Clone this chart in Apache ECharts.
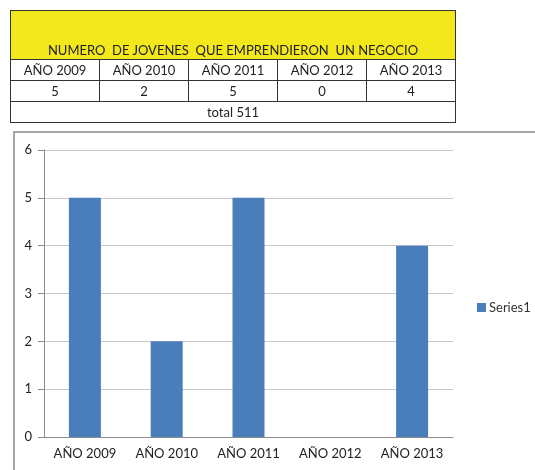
<!DOCTYPE html>
<html>
<head>
<meta charset="utf-8">
<script src="https://cdn.jsdelivr.net/npm/echarts@6/dist/echarts.min.js"></script>
<style>
  html, body { margin: 0; padding: 0; background: #fff; }
  body { width: 535px; height: 470px; position: relative; overflow: hidden; font-family: Lato, "Open Sans", sans-serif; }
  #chart { position: absolute; left: 0; top: 0; width: 535px; height: 470px; }
  .chart-box {
    position: absolute; left: 13px; top: 131px; width: 530px; height: 350px;
    border-top: 2px solid #a6a6a6; border-left: 2px solid #a6a6a6;
  }
  .data-table {
    position: absolute; left: 10px; top: 10px; width: 446px;
    border-collapse: collapse; font-size: 13px; color: #222;
  }
  .data-table td {
    border: 1px solid #333; text-align: center; padding: 0; height: 20px; width: 89px;
  }
  .data-table .title-cell {
    background: #f2e81c; height: 47px; vertical-align: bottom; white-space: pre; padding-bottom: 1px;
  }
</style>
</head>
<body>
<div class="chart-box"></div>
<div id="chart"></div>
<table class="data-table" id="tbl"></table>
<script>
  const titleText = 'NUMERO  DE JOVENES  QUE EMPRENDIERON  UN NEGOCIO';
  const categories = ['AÑO 2009', 'AÑO 2010', 'AÑO 2011', 'AÑO 2012', 'AÑO 2013'];
  const values = [5, 2, 5, 0, 4];
  const totalText = 'total 511';
  const yTicks = [0, 1, 2, 3, 4, 5, 6];

  // tabla de arriba
  let tbl = document.getElementById('tbl');
  let html = '<tr><td class="title-cell" colspan="' + categories.length + '">' + titleText + '</td></tr>';
  html += '<tr>' + categories.map(c => '<td>' + c + '</td>').join('') + '</tr>';
  html += '<tr>' + values.map(v => '<td>' + v + '</td>').join('') + '</tr>';
  html += '<tr><td colspan="' + categories.length + '">' + totalText + '</td></tr>';
  tbl.innerHTML = html;

  let chart = echarts.init(document.getElementById('chart'));
  const option = {
    animation: false,
    textStyle: { fontFamily: 'Lato, "Open Sans", sans-serif' },
    grid: { left: 44, right: 82, top: 150, bottom: 33 },
    legend: {
      data: ['Series1'],
      left: 472, top: 296,
      icon: 'rect', itemWidth: 9, itemHeight: 9, itemGap: 4,
      textStyle: { fontSize: 13, color: '#333', padding: [0, 0, 0, -2] }
    },
    xAxis: {
      type: 'category',
      data: categories,
      axisLine: { lineStyle: { color: '#8c8c8c' } },
      axisTick: { length: 5, lineStyle: { color: '#8c8c8c' } },
      axisLabel: { fontSize: 13, color: '#222', margin: 10 }
    },
    yAxis: {
      type: 'value',
      min: yTicks[0], max: yTicks[yTicks.length - 1], interval: 1,
      axisLine: { show: true, lineStyle: { color: '#8c8c8c' } },
      axisTick: { show: true, length: 6, lineStyle: { color: '#8c8c8c' } },
      axisLabel: { fontSize: 13, color: '#222', margin: 12 },
      splitLine: { lineStyle: { color: '#c8c8c8' } }
    },
    series: [
      {
        name: 'Series1',
        type: 'bar',
        data: values,
        barWidth: 32,
        itemStyle: { color: '#4a7ebb' }
      }
    ]
  };
  chart.setOption(option);
</script>
</body>
</html>
